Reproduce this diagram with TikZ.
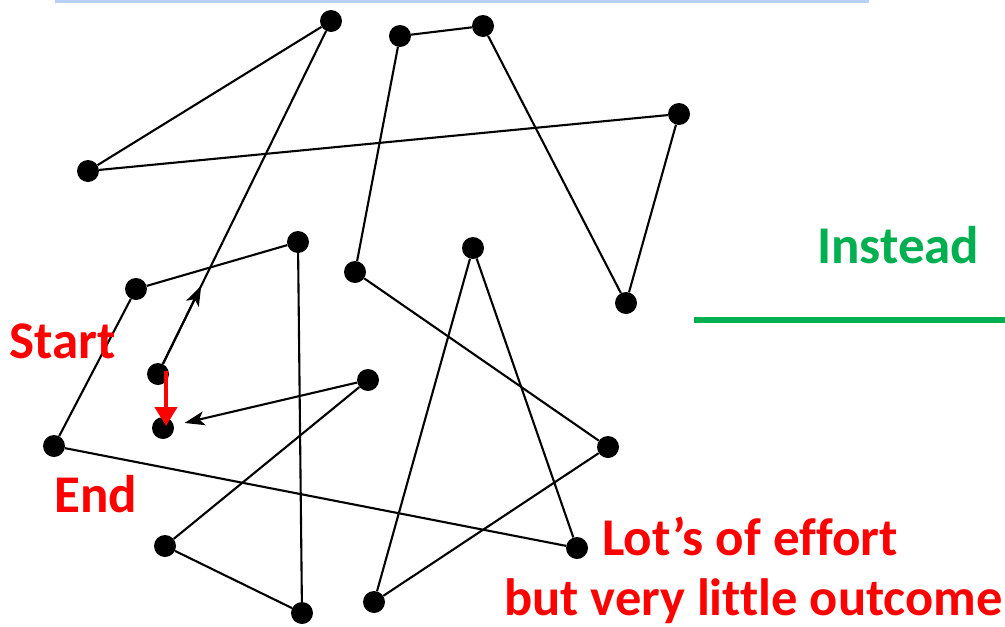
\documentclass[tikz,border=0pt]{standalone}
\usepackage{fontspec}
\setmainfont{Carlito}[Ligatures=NoCommon]
\usetikzlibrary{arrows.meta,calc}
\definecolor{offred}{RGB}{255,0,0}
\definecolor{offgreen}{RGB}{0,176,80}
\definecolor{topblue}{RGB}{182,208,248}
\tikzset{
  dot/.style={circle,fill=black,draw=none,minimum size=22pt,inner sep=0pt},
  edge/.style={line width=2.1pt,black},
  blackarrow/.style={edge,-{Stealth[length=20pt,width=14pt,inset=5pt]}},
  redlbl/.style={text=offred,font=\fontsize{53}{60}\selectfont\bfseries,inner sep=0pt,anchor=base west},
  greenlbl/.style={text=offgreen,font=\fontsize{53}{60}\selectfont\bfseries,inner sep=0pt,anchor=base west},
  redarrow/.style={offred,line width=4.5pt,-{Triangle[length=19pt,width=22pt]}}
}
\begin{document}
\begin{tikzpicture}[x=1pt,y=-1pt]
\useasboundingbox (0,0) rectangle (1005,627);
% top blue rule and green rule
\coordinate (tb1) at (55,1.5);
\coordinate (tb2) at (869,1.5);
\draw[topblue,line width=3pt] (tb1) -- (tb2);
\coordinate (g1) at (694,320);
\coordinate (g2) at (1005,320);
\draw[offgreen,line width=6pt] (g1) -- (g2);
% dots
\node[dot] (A) at (331,21) {};
\node[dot] (B) at (88,171) {};
\node[dot] (C) at (400,36) {};
\node[dot] (D) at (483,26) {};
\node[dot] (E) at (679,114) {};
\node[dot] (F) at (626,303) {};
\node[dot] (G) at (355,272) {};
\node[dot] (H) at (298,242) {};
\node[dot] (I) at (136,289) {};
\node[dot] (J) at (158,374) {};
\node[dot] (K) at (163,428) {};
\node[dot] (L) at (368,380) {};
\node[dot] (M) at (54,446) {};
\node[dot] (N) at (577,548) {};
\node[dot] (O) at (165,546) {};
\node[dot] (P) at (302,613) {};
\node[dot] (Q) at (473,248) {};
\node[dot] (R) at (374,602) {};
\node[dot] (S) at (608,447) {};
% path
\draw[edge] (A) -- (B);
\draw[edge] (B) -- (E);
\draw[edge] (E) -- (F);
\draw[edge] (F) -- (D);
\draw[edge] (D) -- (C);
\draw[edge] (C) -- (G);
\draw[edge] (G) -- (S);
\draw[edge] (S) -- (R);
\draw[edge] (R) -- (Q);
\draw[edge] (Q) -- (N);
\draw[edge] (N) -- (M);
\draw[edge] (M) -- (I);
\draw[edge] (I) -- (H);
\draw[edge] (H) -- (P);
\draw[edge] (P) -- (O);
\draw[edge] (O) -- (L);
\draw[blackarrow,shorten >=11pt] (L) -- (K);
\draw[edge] (J) -- (A);
\draw[blackarrow] (J) -- ($(J)!0.25!(A)$);
% red arrow
\coordinate (rs) at (166,371);
\coordinate (re) at (166,426);
\draw[redarrow] (rs) -- (re);
% labels
\node[redlbl] (start) at (9,358) {Start};
\node[redlbl] (end) at (54,512) {End};
\node[redlbl] (effort) at (602,555) {Lot’s of effort};
\node[redlbl,font=\fontsize{52.5}{60}\selectfont\bfseries] (outcome) at (504,615) {but very little outcome};
\node[greenlbl] (instead) at (817,263) {Instead};
\end{tikzpicture}
\end{document}
